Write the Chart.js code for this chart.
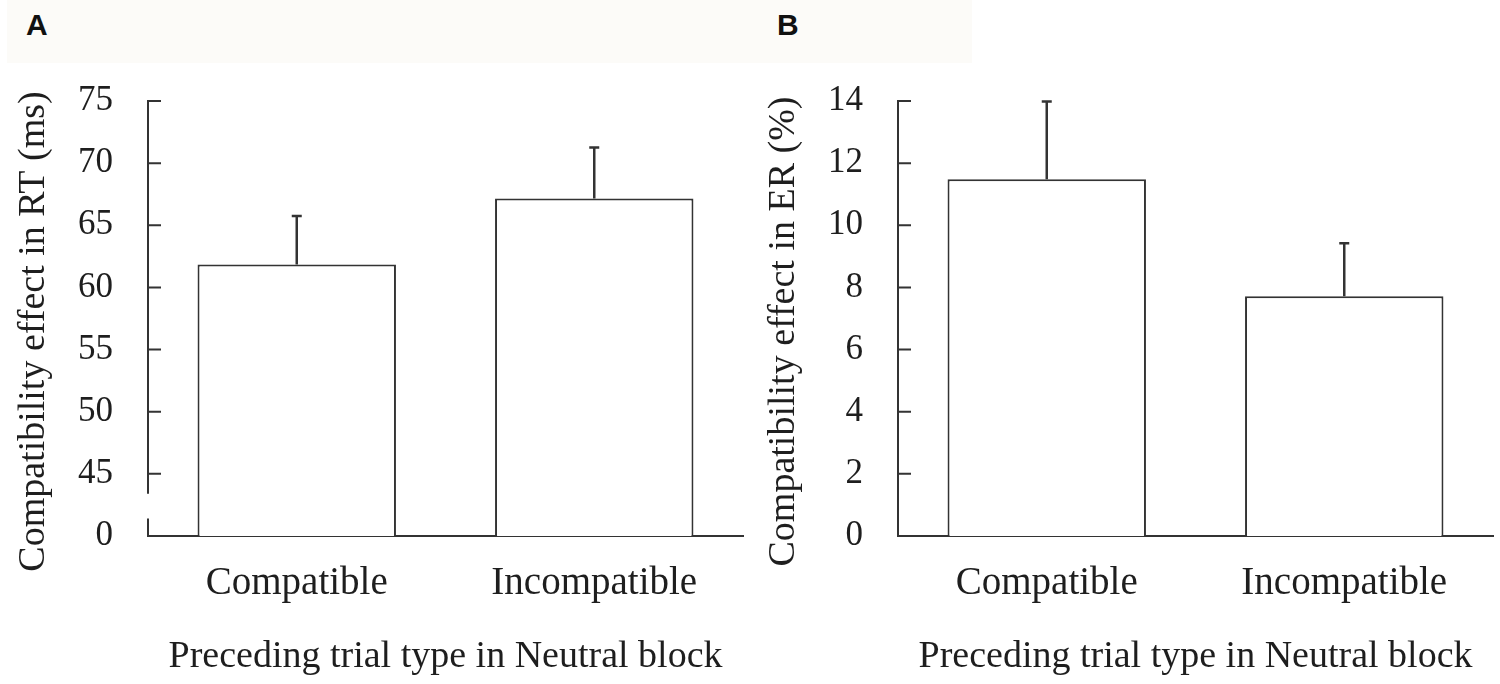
<!DOCTYPE html>
<html>
<head>
<meta charset="utf-8">
<script src="https://cdn.jsdelivr.net/npm/chart.js@4.4.1/dist/chart.umd.min.js"></script>
<style>
  body { margin: 0; background: #fff; }
  #wrap { position: relative; width: 1500px; height: 684px; overflow: hidden; }
  .band { position: absolute; left: 7px; top: 0; width: 965px; height: 63px; background: #fcfbf8; }
  .panel { position: absolute; top: 10px; font: bold 30px/1 "Liberation Sans", Arial, sans-serif; color: #111; }
  .box { position: absolute; top: 0; width: 750px; height: 684px; }
</style>
</head>
<body>
<div id="wrap">
  <div class="band"></div>
  <div class="panel" style="left:26px">A</div>
  <div class="panel" style="left:777px">B</div>
  <div class="box" style="left:0"><canvas id="chartA"></canvas></div>
  <div class="box" style="left:750px"><canvas id="chartB"></canvas></div>
</div>
<script>
/* =====================
   DATA
===================== */
const categories = ["Compatible", "Incompatible"];

// panel A: RT compatibility effect (ms), axis broken between 0 and 45
const rtMeans = [61.85, 67.15];
const rtErrors = [3.9, 4.1];
const rtTickLabels = ["0", "45", "50", "55", "60", "65", "70", "75"];

// panel B: ER compatibility effect (%)
const erMeans = [11.48, 7.72];
const erErrors = [2.5, 1.7];
const erTickLabels = ["0", "2", "4", "6", "8", "10", "12", "14"];

const xTitle = "Preceding trial type in Neutral block";

/* =====================
   STYLE
===================== */
const SERIF = '"Liberation Serif", "Times New Roman", serif';
const INK = "#333";
const TEXT = "#1e1e1e";

Chart.defaults.font.family = SERIF;
Chart.defaults.color = TEXT;

/* y axis with inward ticks, optional break, error bars, y title */
const axisAndErrors = {
  id: "axisAndErrors",
  afterDatasetsDraw(chart, args, opts) {
    const { ctx } = chart;
    const y = chart.scales.y;
    const left = chart.chartArea.left;

    ctx.save();
    ctx.strokeStyle = INK;
    ctx.lineWidth = 2;
    ctx.beginPath();
    if (opts.gap) {
      ctx.moveTo(left, y.top);
      ctx.lineTo(left, y.getPixelForValue(opts.gap[1]));
      ctx.moveTo(left, y.getPixelForValue(opts.gap[0]));
      ctx.lineTo(left, y.bottom);
    } else {
      ctx.moveTo(left, y.top);
      ctx.lineTo(left, y.bottom);
    }
    y.ticks.forEach(t => {
      if (t.value === y.min) return;
      const py = y.getPixelForValue(t.value);
      ctx.moveTo(left - 1, py);
      ctx.lineTo(left + 13, py);
    });
    ctx.stroke();

    // error bars (upper only)
    ctx.lineWidth = 2.5;
    const meta = chart.getDatasetMeta(0);
    meta.data.forEach((bar, i) => {
      const top = y.getPixelForValue(opts.means[i] + opts.errors[i]);
      ctx.beginPath();
      ctx.moveTo(bar.x, bar.y);
      ctx.lineTo(bar.x, top);
      ctx.moveTo(bar.x - 5, top);
      ctx.lineTo(bar.x + 5, top);
      ctx.stroke();
    });

    // y title, sits a little below the middle of the axis in the original
    ctx.translate(34, (y.top + y.bottom) / 2 + 13);
    ctx.rotate(-Math.PI / 2);
    ctx.fillStyle = TEXT;
    ctx.font = "38px " + SERIF;
    ctx.textAlign = "center";
    ctx.textBaseline = "middle";
    ctx.fillText(opts.title, 0, 0);
    ctx.restore();
  }
};

function makeChart(id, means, errors, tickLabels, yMin, yMax, step, yTitle, gap) {
  return new Chart(document.getElementById(id), {
    type: "bar",
    data: {
      labels: categories,
      datasets: [{
        data: means,
        backgroundColor: "#fff",
        borderColor: INK,
        borderWidth: 2,
        barPercentage: 0.667,
        categoryPercentage: 1
      }]
    },
    options: {
      responsive: true,
      maintainAspectRatio: false,
      animation: false,
      layout: { padding: { top: 101, right: 7, left: 0, bottom: 0 } },
      plugins: {
        legend: { display: false },
        tooltip: { enabled: false },
        axisAndErrors: { means, errors, gap, title: yTitle }
      },
      scales: {
        x: {
          afterFit(s) { s.height = 148; },
          grid: { display: false, drawTicks: false },
          border: { display: true, color: INK, width: 2 },
          ticks: { padding: 24, color: TEXT, font: { size: 39 } },
          title: {
            display: true, text: xTitle, color: TEXT,
            font: { size: 38 }, padding: { top: 0, bottom: 4 }
          }
        },
        y: {
          min: yMin,
          max: yMax,
          afterFit(s) { s.width = 148; },
          grid: { display: false, drawTicks: false },
          border: { display: false },
          ticks: {
            stepSize: step, padding: 35, color: TEXT, font: { size: 35 },
            callback: (v, i) => tickLabels[i]
          }
        }
      }
    },
    plugins: [axisAndErrors]
  });
}

// panel A: slot below 45 stands for 0 (broken axis)
makeChart("chartA", rtMeans, rtErrors, rtTickLabels, 40, 75, 5,
  "Compatibility effect in RT (ms)", [41.4, 43.4]);
makeChart("chartB", erMeans, erErrors, erTickLabels, 0, 14, 2,
  "Compatibility effect in ER (%)", null);
</script>
</body>
</html>
